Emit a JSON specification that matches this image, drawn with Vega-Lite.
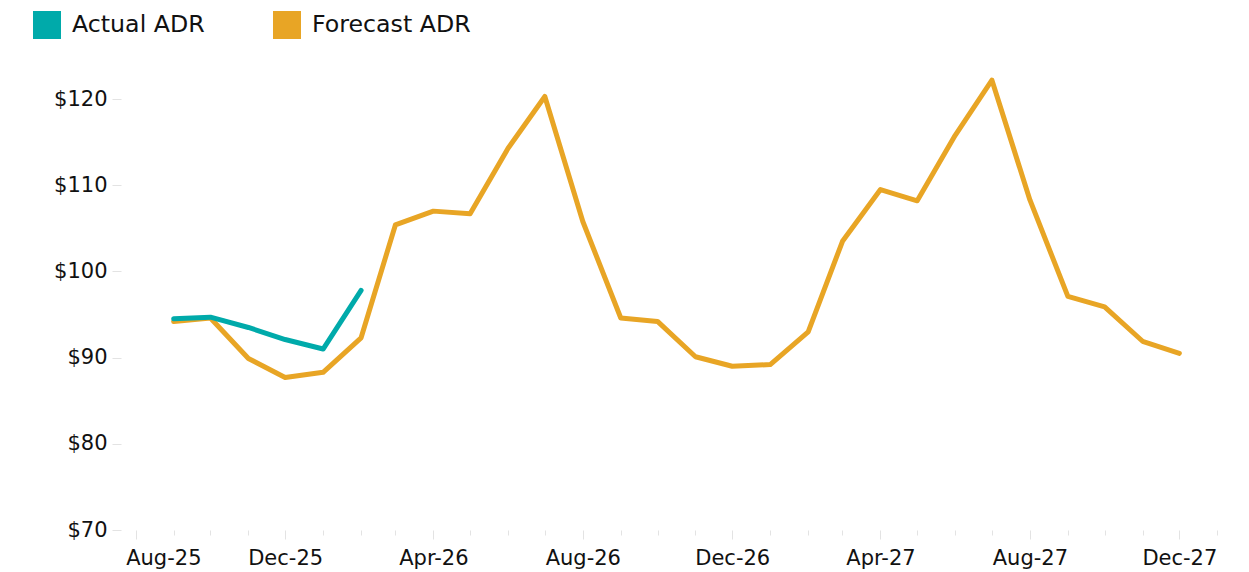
{
  "$schema": "https://vega.github.io/schema/vega-lite/v6.json",
  "autosize": {"type": "none"},
  "padding": {"left": 121, "top": 56, "right": 28, "bottom": 42},
  "width": 1100,
  "height": 474,
  "background": "white",
  "config": {
    "view": {"stroke": null},
    "font": "DejaVu Sans"
  },
  "data": {
    "values": [
      {"date": "2025-09-01", "series": "Forecast ADR", "adr": 94.2},
      {"date": "2025-10-01", "series": "Forecast ADR", "adr": 94.6},
      {"date": "2025-11-01", "series": "Forecast ADR", "adr": 89.9},
      {"date": "2025-12-01", "series": "Forecast ADR", "adr": 87.7},
      {"date": "2026-01-01", "series": "Forecast ADR", "adr": 88.3},
      {"date": "2026-02-01", "series": "Forecast ADR", "adr": 92.3},
      {"date": "2026-03-01", "series": "Forecast ADR", "adr": 105.4},
      {"date": "2026-04-01", "series": "Forecast ADR", "adr": 107.0},
      {"date": "2026-05-01", "series": "Forecast ADR", "adr": 106.7},
      {"date": "2026-06-01", "series": "Forecast ADR", "adr": 114.3},
      {"date": "2026-07-01", "series": "Forecast ADR", "adr": 120.3},
      {"date": "2026-08-01", "series": "Forecast ADR", "adr": 105.8},
      {"date": "2026-09-01", "series": "Forecast ADR", "adr": 94.6},
      {"date": "2026-10-01", "series": "Forecast ADR", "adr": 94.2},
      {"date": "2026-11-01", "series": "Forecast ADR", "adr": 90.1},
      {"date": "2026-12-01", "series": "Forecast ADR", "adr": 89.0},
      {"date": "2027-01-01", "series": "Forecast ADR", "adr": 89.2},
      {"date": "2027-02-01", "series": "Forecast ADR", "adr": 93.0},
      {"date": "2027-03-01", "series": "Forecast ADR", "adr": 103.5},
      {"date": "2027-04-01", "series": "Forecast ADR", "adr": 109.5},
      {"date": "2027-05-01", "series": "Forecast ADR", "adr": 108.2},
      {"date": "2027-06-01", "series": "Forecast ADR", "adr": 115.8},
      {"date": "2027-07-01", "series": "Forecast ADR", "adr": 122.2},
      {"date": "2027-08-01", "series": "Forecast ADR", "adr": 108.3},
      {"date": "2027-09-01", "series": "Forecast ADR", "adr": 97.1},
      {"date": "2027-10-01", "series": "Forecast ADR", "adr": 95.9},
      {"date": "2027-11-01", "series": "Forecast ADR", "adr": 91.9},
      {"date": "2027-12-01", "series": "Forecast ADR", "adr": 90.5},
      {"date": "2025-09-01", "series": "Actual ADR", "adr": 94.5},
      {"date": "2025-10-01", "series": "Actual ADR", "adr": 94.7},
      {"date": "2025-11-01", "series": "Actual ADR", "adr": 93.5},
      {"date": "2025-12-01", "series": "Actual ADR", "adr": 92.1},
      {"date": "2026-01-01", "series": "Actual ADR", "adr": 91.0},
      {"date": "2026-02-01", "series": "Actual ADR", "adr": 97.8}
    ]
  },
  "mark": {"type": "line", "strokeWidth": 5, "strokeCap": "round", "strokeJoin": "round"},
  "encoding": {
    "x": {
      "field": "date",
      "type": "temporal",
      "scale": {
        "type": "utc",
        "domain": [
          {"year": 2025, "month": 7, "date": 20, "utc": true},
          {"year": 2028, "month": 1, "date": 4, "utc": true}
        ]
      },
      "axis": {
        "title": null,
        "domain": false,
        "grid": false,
        "tickCount": {"interval": "month", "step": 1},
        "tickColor": "#e3e3e3",
        "tickWidth": 1,
        "tickSize": {"condition": {"test": "utcmonth(datum.value) % 4 == 3", "value": 9}, "value": 5},
        "labelExpr": "utcmonth(datum.value) % 4 == 3 ? utcFormat(datum.value, '%b-%y') : ''",
        "labelOverlap": false,
        "labelFlush": 20,
        "labelFlushOffset": 10,
        "labelPadding": 8,
        "labelFont": "DejaVu Sans",
        "labelFontSize": 21,
        "labelColor": "#111111"
      }
    },
    "y": {
      "field": "adr",
      "type": "quantitative",
      "scale": {"domain": [70, 125], "nice": false, "zero": false},
      "axis": {
        "title": null,
        "domain": false,
        "grid": false,
        "values": [70, 80, 90, 100, 110, 120],
        "labelExpr": "'$' + datum.value",
        "tickColor": "#e3e3e3",
        "tickSize": 9,
        "labelPadding": 5,
        "labelFont": "DejaVu Sans",
        "labelFontSize": 21,
        "labelColor": "#111111"
      }
    },
    "color": {
      "field": "series",
      "type": "nominal",
      "scale": {"domain": ["Actual ADR", "Forecast ADR"], "range": ["#00AAAA", "#E8A525"]},
      "legend": {
        "title": null,
        "orient": "none",
        "legendX": -88,
        "legendY": -45,
        "direction": "horizontal",
        "padding": 0,
        "symbolType": "square",
        "symbolSize": 784,
        "symbolStrokeWidth": 0,
        "symbolOpacity": 1,
        "labelFont": "DejaVu Sans",
        "labelFontSize": 23.7,
        "labelColor": "#111111",
        "labelOffset": 11,
        "columnPadding": 68,
        "labelLimit": 400,
        "encode": {
          "symbols": {
            "update": {
              "fill": {"scale": "color", "field": "value"},
              "fillOpacity": {"value": 1},
              "strokeWidth": {"value": 0}
            }
          }
        }
      }
    }
  }
}
